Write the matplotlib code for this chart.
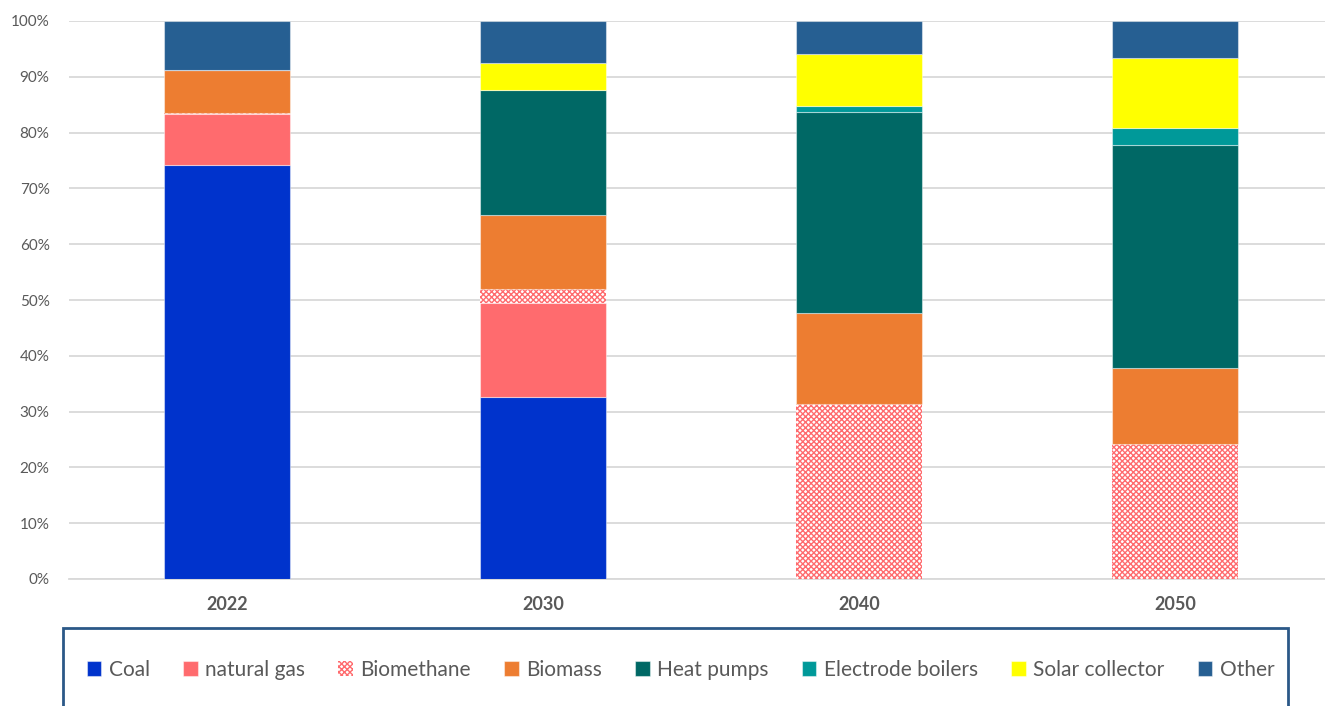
import matplotlib
matplotlib.use("Agg")
import matplotlib.pyplot as plt
from matplotlib.patches import Rectangle
import numpy as np

plt.rcParams['font.family'] = ['Lato', 'DejaVu Sans']
plt.rcParams['hatch.linewidth'] = 1.0

years = ["2022", "2030", "2040", "2050"]
coal = [74.2, 32.6, 0.0, 0.0]
natural_gas = [9.2, 16.9, 0.0, 0.0]
biomethane = [0.2, 2.5, 31.4, 24.2]
biomass = [7.6, 13.2, 16.3, 13.6]
heat_pumps = [0.0, 22.4, 36.0, 40.0]
electrode_boilers = [0.0, 0.0, 1.1, 3.1]
solar_collector = [0.0, 4.9, 9.2, 12.4]
other = [8.8, 7.5, 6.0, 6.7]

series = [
    ("Coal", coal, "#0033CC", None),
    ("natural gas", natural_gas, "#FF6B6E", None),
    ("Biomethane", biomethane, "#FFFFFF", "xxxxxx"),
    ("Biomass", biomass, "#ED7D31", None),
    ("Heat pumps", heat_pumps, "#006865", None),
    ("Electrode boilers", electrode_boilers, "#009999", None),
    ("Solar collector", solar_collector, "#FFFF00", None),
    ("Other", other, "#265F92", None),
]

W, H = 1325, 706
fig = plt.figure(figsize=(W / 100, H / 100), dpi=100)
ax_left, ax_right = 69 / W, 1.0
ax_bottom, ax_top = 1 - 579 / H, 1 - 21 / H
ax = fig.add_axes([ax_left, ax_bottom, ax_right - ax_left, ax_top - ax_bottom])

x = np.arange(len(years))
bottom = np.zeros(len(years))
handles = []
for name, vals, color, hatch in series:
    vals = np.array(vals, dtype=float)
    if hatch:
        bars = ax.bar(x, vals, 0.40, bottom=bottom, color="white",
                      edgecolor="#FF6B6E", hatch=hatch, linewidth=0, label=name, zorder=3)
    else:
        bars = ax.bar(x, vals, 0.40, bottom=bottom, color=color,
                      edgecolor=(1, 1, 1, 0.45), linewidth=0.8, label=name, zorder=3)
    handles.append(bars)
    bottom += vals

ax.set_ylim(0, 100)
ax.set_xlim(-0.5, (1325 - 69) / 316 - 0.5)
ax.set_yticks(np.arange(0, 101, 10))
ax.set_yticklabels([f"{v}%" for v in range(0, 101, 10)], fontsize=11, color="#595959")
ax.set_xticks(x)
ax.set_xticklabels(years, fontsize=13, fontweight="bold", color="#595959")
ax.tick_params(axis="both", length=0)
ax.tick_params(axis="y", pad=14)
ax.tick_params(axis="x", pad=12)
ax.grid(axis="y", color="#D9D9D9", linewidth=1.3, zorder=0)
ax.set_axisbelow(True)
for s in ["top", "right", "left"]:
    ax.spines[s].set_visible(False)
ax.spines["bottom"].set_color("#D9D9D9")
ax.spines["bottom"].set_linewidth(1.3)

# frame around the legend area
fig.patches.append(Rectangle((63 / W, -0.05), (1288 - 63) / W, 0.05 + (1 - 628 / H),
                             transform=fig.transFigure, fill=False,
                             edgecolor="#2B5887", linewidth=2.0))

leg = fig.legend(handles=handles, labels=[s[0] for s in series], loc="center",
                 bbox_to_anchor=((88 + 1273) / 2 / W, 1 - 670 / H), ncol=8,
                 frameon=False, fontsize=15, handlelength=0.7, handleheight=0.7,
                 handletextpad=0.35, columnspacing=1.6)
for t in leg.get_texts():
    t.set_color("#595959")

fig.savefig("out.png", dpi=100)
